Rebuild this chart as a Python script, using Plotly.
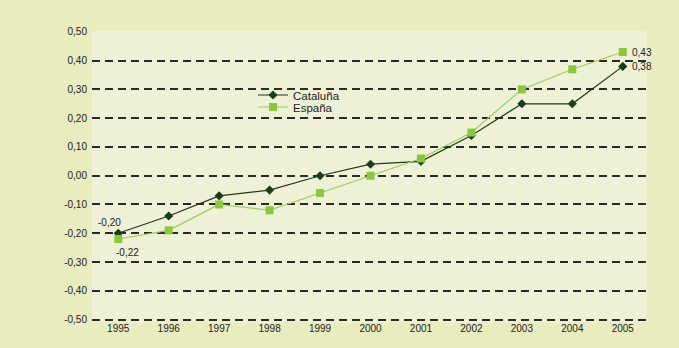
import plotly.graph_objects as go

# Series data
years = [1995, 1996, 1997, 1998, 1999, 2000, 2001, 2002, 2003, 2004, 2005]
cataluna = [-0.20, -0.14, -0.07, -0.05, 0.00, 0.04, 0.05, 0.14, 0.25, 0.25, 0.38]
espana = [-0.22, -0.19, -0.10, -0.12, -0.06, 0.00, 0.06, 0.15, 0.30, 0.37, 0.43]

y_tickvals = [0.5, 0.4, 0.3, 0.2, 0.1, 0.0, -0.1, -0.2, -0.3, -0.4, -0.5]
y_ticktext = ["0,50", "0,40", "0,30", "0,20", "0,10", "0,00",
              "-0,10", "-0,20", "-0,30", "-0,40", "-0,50"]

DARK = "#1d3a1d"
LIGHT_LINE = "#98cd62"
LIGHT_MARK = "#8cc63f"
OUTER_BG = "#e8ecbf"
INNER_BG = "#eef1d5"
TEXT = "#222222"
FONT = "Arial, Liberation Sans, sans-serif"


def fmt(v):
    return f"{v:.2f}".replace(".", ",")


fig = go.Figure()
fig.add_trace(go.Scatter(
    x=years, y=cataluna, name="Cataluña", mode="lines+markers",
    line=dict(color=DARK, width=1.2),
    marker=dict(symbol="diamond", size=7, color=DARK),
    legend="legend", showlegend=True,
))
fig.add_trace(go.Scatter(
    x=years, y=espana, name="España", mode="lines+markers",
    line=dict(color=LIGHT_LINE, width=1.2),
    marker=dict(symbol="square", size=8, color=LIGHT_MARK),
    legend="legend2", showlegend=True,
))

# value labels on the first and last points
annotations = [
    dict(x=years[0], y=cataluna[0], text=fmt(cataluna[0]), xshift=-9, yshift=11),
    dict(x=years[0], y=espana[0], text=fmt(espana[0]), xshift=9, yshift=-13),
    dict(x=years[-1], y=espana[-1], text=fmt(espana[-1]), xanchor="left", xshift=7),
    dict(x=years[-1], y=cataluna[-1], text=fmt(cataluna[-1]), xanchor="left", xshift=7),
]
for a in annotations:
    a.update(xref="x", yref="y", showarrow=False, font=dict(size=10, color=TEXT, family=FONT))

W, H = 679, 348
L, R, T, B = 92, 32, 31, 27
pw, ph = W - L - R, H - T - B

px_x = lambda p: (p - L) / pw
px_y = lambda p: (T + ph - p) / ph

shapes = [
    # plotting area
    dict(type="rect", xref="paper", yref="paper", layer="below",
         x0=0, x1=1, y0=-0.004, y1=1, fillcolor=INNER_BG, line=dict(width=0)),
]

legend_common = dict(
    xanchor="left", yanchor="middle", bgcolor="rgba(0,0,0,0)",
    font=dict(size=11.5, color=TEXT, family=FONT), itemwidth=30,
)

fig.update_layout(
    width=W, height=H,
    margin=dict(l=L, r=R, t=T, b=B),
    paper_bgcolor=OUTER_BG,
    plot_bgcolor="rgba(0,0,0,0)",
    font=dict(family=FONT, size=10, color=TEXT),
    shapes=shapes,
    annotations=annotations,
    showlegend=True,
    legend=dict(x=px_x(253), y=px_y(95), **legend_common),
    legend2=dict(x=px_x(253), y=px_y(107), **legend_common),
    xaxis=dict(
        range=[1994.48, 2005.48], tickvals=years, ticktext=[str(y) for y in years],
        showgrid=False, zeroline=False, showline=False, ticks="",
        tickfont=dict(size=10, color=TEXT), fixedrange=True,
    ),
    yaxis=dict(
        range=[-0.505, 0.503], tickvals=y_tickvals, ticktext=y_ticktext,
        showgrid=True, gridcolor="#2a2a2a", gridwidth=1.5, griddash="8px,5px",
        zeroline=False, showline=False, ticks="", ticklabelstandoff=4,
        tickfont=dict(size=10, color=TEXT), fixedrange=True,
    ),
)

fig.write_html("out.html")
